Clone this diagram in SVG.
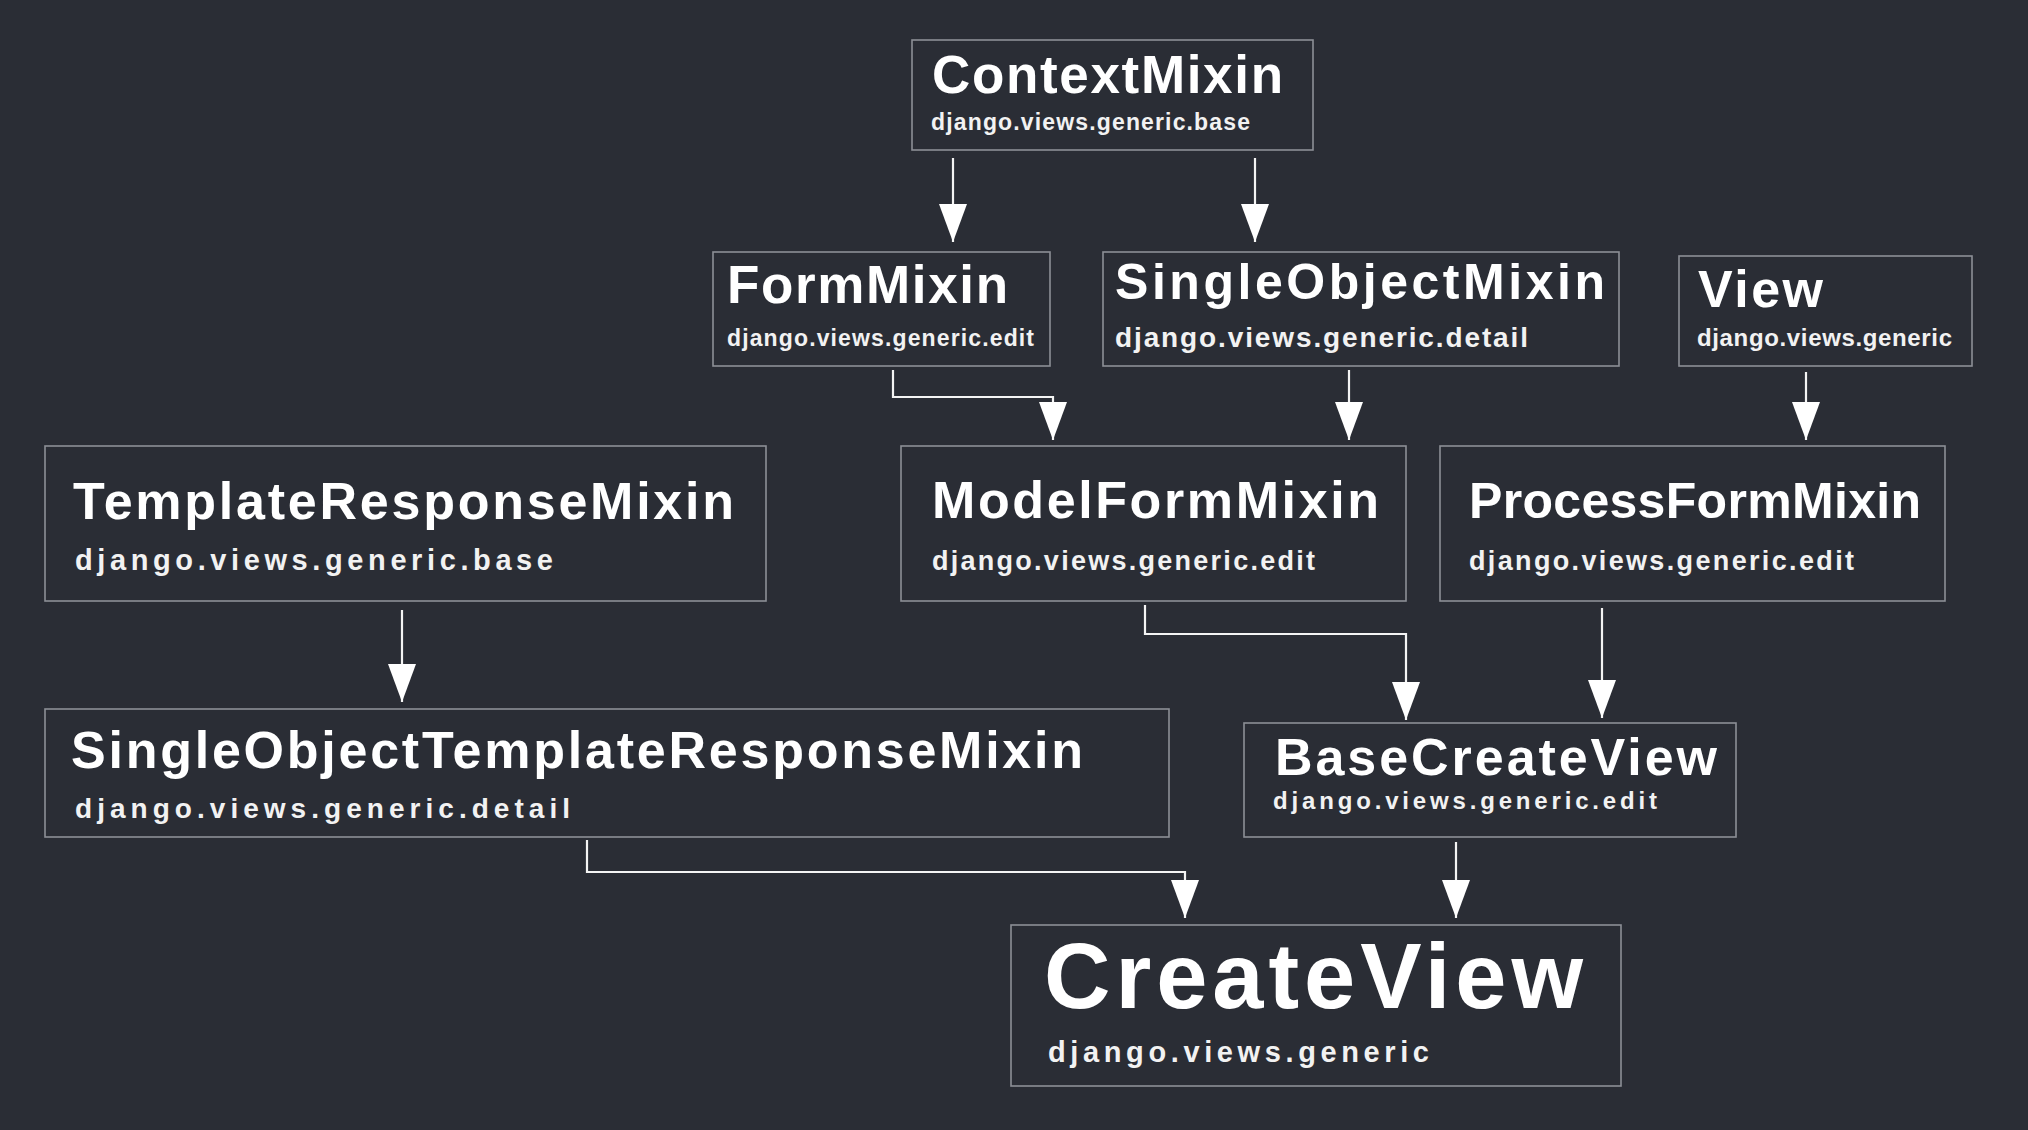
<svg xmlns="http://www.w3.org/2000/svg" width="2028" height="1130" viewBox="0 0 2028 1130">
<defs>
<marker id="ah" viewBox="0 -14 38 28" markerWidth="38" markerHeight="28" refX="38" refY="0" markerUnits="userSpaceOnUse" orient="auto">
<path d="M0,-14 L38,0 L0,14 z" fill="#ffffff"/>
</marker>
<style>
.box{fill:none;stroke:#8c8f96;stroke-width:1.6}
.t{font-family:"Liberation Sans",Arial,sans-serif;font-weight:bold;fill:#ffffff}
.s{font-family:"Liberation Sans",Arial,sans-serif;font-weight:bold;fill:#f2f2f2}
.c{fill:none;stroke:#f4f4f4;stroke-width:2.2}
</style>
</defs>
<rect x="0" y="0" width="2028" height="1130" fill="#2a2d35"/>
<g id="connectors">
<path class="c" d="M953,158 V242" marker-end="url(#ah)"/>
<path class="c" d="M1255,158 V242" marker-end="url(#ah)"/>
<path class="c" d="M893,370 V397 H1053 V440" marker-end="url(#ah)"/>
<path class="c" d="M1349,370 V440" marker-end="url(#ah)"/>
<path class="c" d="M1806,372 V440" marker-end="url(#ah)"/>
<path class="c" d="M402,610 V702" marker-end="url(#ah)"/>
<path class="c" d="M1145,605 V634 H1406 V720" marker-end="url(#ah)"/>
<path class="c" d="M1602,608 V718" marker-end="url(#ah)"/>
<path class="c" d="M587,840 V872 H1185 V918" marker-end="url(#ah)"/>
<path class="c" d="M1456,842 V918" marker-end="url(#ah)"/>
</g>
<g id="ContextMixin">
<rect class="box" x="912" y="40" width="401" height="110"/>
<text class="t" x="932" y="93" font-size="53" textLength="351">ContextMixin</text>
<text class="s" x="931" y="130" font-size="23" textLength="319">django.views.generic.base</text>
</g>
<g id="FormMixin">
<rect class="box" x="713" y="252" width="337" height="114"/>
<text class="t" x="727" y="303" font-size="53" textLength="281">FormMixin</text>
<text class="s" x="727" y="346" font-size="23" textLength="307">django.views.generic.edit</text>
</g>
<g id="SingleObjectMixin">
<rect class="box" x="1103" y="252" width="516" height="114"/>
<text class="t" x="1115" y="299" font-size="50" textLength="490">SingleObjectMixin</text>
<text class="s" x="1115" y="347" font-size="28" textLength="413">django.views.generic.detail</text>
</g>
<g id="View">
<rect class="box" x="1679" y="256" width="293" height="110"/>
<text class="t" x="1698" y="307" font-size="52" textLength="125">View</text>
<text class="s" x="1697" y="346" font-size="24" textLength="255">django.views.generic</text>
</g>
<g id="TemplateResponseMixin">
<rect class="box" x="45" y="446" width="721" height="155"/>
<text class="t" x="73" y="519" font-size="52" textLength="661">TemplateResponseMixin</text>
<text class="s" x="75" y="570" font-size="29" textLength="478">django.views.generic.base</text>
</g>
<g id="ModelFormMixin">
<rect class="box" x="901" y="446" width="505" height="155"/>
<text class="t" x="932" y="518" font-size="52" textLength="447">ModelFormMixin</text>
<text class="s" x="932" y="570" font-size="27" textLength="383">django.views.generic.edit</text>
</g>
<g id="ProcessFormMixin">
<rect class="box" x="1440" y="446" width="505" height="155"/>
<text class="t" x="1469" y="518" font-size="50" textLength="452">ProcessFormMixin</text>
<text class="s" x="1469" y="570" font-size="27" textLength="385">django.views.generic.edit</text>
</g>
<g id="SingleObjectTemplateResponseMixin">
<rect class="box" x="45" y="709" width="1124" height="128"/>
<text class="t" x="71" y="768" font-size="52" textLength="1012">SingleObjectTemplateResponseMixin</text>
<text class="s" x="75" y="818" font-size="28" textLength="495">django.views.generic.detail</text>
</g>
<g id="BaseCreateView">
<rect class="box" x="1244" y="723" width="492" height="114"/>
<text class="t" x="1275" y="775" font-size="52" textLength="442">BaseCreateView</text>
<text class="s" x="1273" y="809" font-size="24" textLength="384">django.views.generic.edit</text>
</g>
<g id="CreateView">
<rect class="box" x="1011" y="925" width="610" height="161"/>
<text class="t" x="1044" y="1008" font-size="92" textLength="539">CreateView</text>
<text class="s" x="1048" y="1062" font-size="29" textLength="381">django.views.generic</text>
</g>
</svg>
